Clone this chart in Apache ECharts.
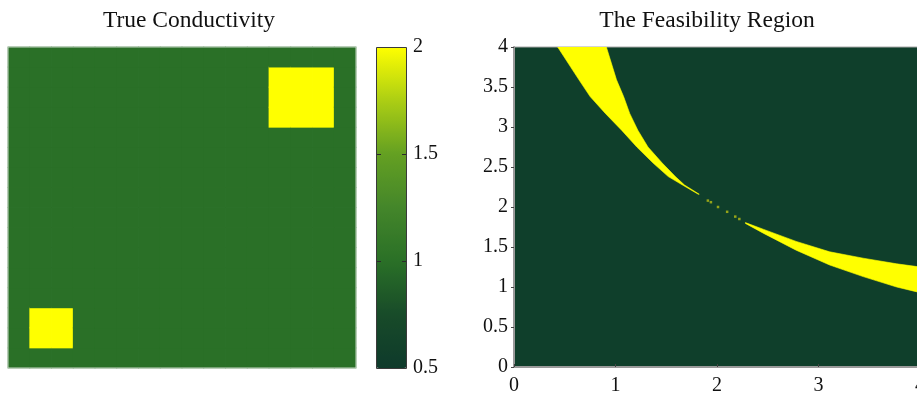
<!DOCTYPE html>
<html>
<head>
<meta charset="utf-8">
<script src="https://cdn.jsdelivr.net/npm/echarts@6/dist/echarts.min.js"></script>
<style>
  html, body { margin: 0; padding: 0; background: #ffffff; }
  #chart { width: 917px; height: 397px; }
</style>
</head>
<body>
<div id="chart"></div>
<script>
// ---- True conductivity: 16 x 16 cells, background plus two square inclusions ----
const cellCount = 16;
const backgroundConductivity = 1;
// [firstCol, lastCol, firstRow, lastRow, conductivity]  (row 0 = bottom)
const inclusionSmall = [1, 2, 1, 2, 2];
const inclusionLarge = [12, 14, 12, 14, 2];

// ---- Colour bar ----
const colorbarMin = 0.5;
const colorbarMax = 2;
const colorbarTicks = [0.5, 1, 1.5, 2];
const colorbarInnerTicks = [1, 1.5];
const conductivityColors = ['#0e3a2b', '#184b29', '#2a7027', '#44862a', '#64a022', '#acce14', '#ffff00'];

// ---- Feasibility region ----
const xTicks = [0, 1, 2, 3, 4];
const yTicks = [0, 0.5, 1, 1.5, 2, 2.5, 3, 3.5, 4];

// upper branch, sampled along y: left and right edge of the band
const upperBranchY     = [4.0, 3.59, 3.38, 3.17, 2.96, 2.75, 2.55, 2.38, 2.275, 2.16];
const upperBranchLeft  = [0.43, 0.64, 0.75, 0.90, 1.06, 1.21, 1.37, 1.52, 1.66, 1.815];
const upperBranchRight = [0.91, 1.01, 1.08, 1.14, 1.22, 1.32, 1.46, 1.59, 1.68, 1.825];

// lower branch, sampled along x: bottom and top edge of the band
const lowerBranchX      = [2.28, 2.46, 2.78, 3.11, 3.44, 3.77, 4.0];
const lowerBranchBottom = [1.795, 1.67, 1.46, 1.275, 1.13, 1.00, 0.93];
const lowerBranchTop    = [1.805, 1.72, 1.57, 1.44, 1.36, 1.29, 1.25];

// isolated feasible points where the two branches meet
const isolatedX = [1.91, 1.94, 2.01, 2.10, 2.18, 2.22];
const isolatedY = [2.08, 2.06, 2.00, 1.94, 1.88, 1.85];

// ---- build the conductivity cells ----
const cellIndex = Array.from({ length: cellCount }, (_, i) => i);
const conductivityCells = [];
for (let col = 0; col < cellCount; col++) {
  for (let row = 0; row < cellCount; row++) {
    let v = backgroundConductivity;
    [inclusionSmall, inclusionLarge].forEach(([c0, c1, r0, r1, val]) => {
      if (col >= c0 && col <= c1 && row >= r0 && row <= r1) v = val;
    });
    conductivityCells.push([col, row, v]);
  }
}

// ---- band outlines (edge points in data space) ----
const upperOutline = upperBranchY.map((y, i) => [upperBranchLeft[i], y])
  .concat(upperBranchY.map((y, i) => [upperBranchRight[i], y]).reverse());
const lowerOutline = lowerBranchX.map((x, i) => [x, lowerBranchBottom[i]])
  .concat(lowerBranchX.map((x, i) => [x, lowerBranchTop[i]]).reverse());
const bandOutlines = [upperOutline, lowerOutline];
const isolatedPoints = isolatedX.map((x, i) => [x, isolatedY[i]]);

const serif = '"Liberation Serif", "DejaVu Serif", serif';
const labelStyle = { fontFamily: serif, fontSize: 20, color: '#111' };

const chart = echarts.init(document.getElementById('chart'), null, { renderer: 'canvas' });

chart.setOption({
  animation: false,
  backgroundColor: '#ffffff',
  graphic: [
    { type: 'text', x: 189, y: 21, style: { text: 'True Conductivity', align: 'center', verticalAlign: 'middle', font: '23.5px ' + serif, fill: '#111' } },
    { type: 'text', x: 707, y: 21, style: { text: 'The Feasibility Region', align: 'center', verticalAlign: 'middle', font: '23.5px ' + serif, fill: '#111' } },
    { type: 'rect', z: 100, zlevel: 1, shape: { x: 376.5, y: 47.5, width: 30, height: 321 }, style: { fill: 'none', stroke: '#3a3a3a', lineWidth: 1 } }
  ],
  grid: [
    { left: 8, top: 47, width: 348, height: 321, outerBoundsMode: 'none', show: true, borderColor: '#c8d6c8', borderWidth: 1, backgroundColor: 'transparent', z: 3 },
    { left: 514, top: 47, width: 406, height: 320, outerBoundsMode: 'none', show: true, borderColor: '#a8a8a8', borderWidth: 1, backgroundColor: '#0f3f2b' },
    { left: 376, top: 47, width: 31, height: 321, outerBoundsMode: 'none' }
  ],
  xAxis: [
    { gridIndex: 0, type: 'category', data: cellIndex, show: false },
    {
      gridIndex: 1, type: 'value', min: 0, max: 4,
      axisLine: { show: true, lineStyle: { color: '#9a9a9a', width: 2 } },
      axisTick: { show: true, inside: true, length: 3, lineStyle: { color: '#444' }, customValues: xTicks },
      axisLabel: Object.assign({ margin: 9, customValues: xTicks }, labelStyle),
      splitLine: { show: false }
    },
    { gridIndex: 2, type: 'value', min: 0, max: 1, show: false }
  ],
  yAxis: [
    { gridIndex: 0, type: 'category', data: cellIndex, show: false },
    {
      gridIndex: 1, type: 'value', min: 0, max: 4,
      axisLine: { show: true, lineStyle: { color: '#9a9a9a', width: 2 } },
      axisTick: { show: true, inside: false, length: 3, lineStyle: { color: '#444' }, customValues: yTicks },
      axisLabel: Object.assign({ margin: 6, customValues: yTicks }, labelStyle),
      splitLine: { show: false }
    },
    {
      // colour bar scale labels
      gridIndex: 2, type: 'value', min: colorbarMin, max: colorbarMax, position: 'right',
      axisLine: { show: false },
      axisTick: { show: false },
      axisLabel: Object.assign({ margin: 6, customValues: colorbarTicks }, labelStyle),
      splitLine: { show: false }
    }
  ],
  visualMap: {
    type: 'continuous',
    seriesIndex: 0,
    dimension: 2,
    min: colorbarMin,
    max: colorbarMax,
    calculable: false,
    text: null,
    left: 376,
    top: 47,
    itemWidth: 31,
    itemHeight: 321,
    padding: 0,
    inRange: { color: conductivityColors }
  },
  series: [
    {
      // conductivity cells, coloured through the visual map
      type: 'custom',
      xAxisIndex: 0,
      yAxisIndex: 0,
      data: conductivityCells,
      silent: true,
      encode: { x: 0, y: 1 },
      renderItem: (params, api) => {
        const c = api.coord([api.value(0), api.value(1)]);
        const s = api.size([1, 1]);
        const pad = 0.4;
        return {
          type: 'rect',
          shape: { x: c[0] - s[0] / 2 - pad, y: c[1] - s[1] / 2 - pad, width: s[0] + 2 * pad, height: s[1] + 2 * pad },
          style: { fill: api.visual('color') }
        };
      }
    },
    {
      type: 'custom',
      xAxisIndex: 1,
      yAxisIndex: 1,
      clip: true,
      silent: true,
      data: bandOutlines.map((_, i) => [i, 0]),
      renderItem: (params, api) => ({
        type: 'polygon',
        shape: { points: bandOutlines[params.dataIndex].map(p => api.coord(p)) },
        style: { fill: '#ffff00', stroke: '#ffff00', lineWidth: 0.6 }
      })
    },
    {
      type: 'scatter',
      xAxisIndex: 1,
      yAxisIndex: 1,
      symbol: 'rect',
      symbolSize: 2.5,
      itemStyle: { color: '#b7bd14' },
      data: isolatedPoints,
      silent: true
    },
    {
      // short inward tick dashes on both edges of the colour bar
      type: 'custom',
      xAxisIndex: 2,
      yAxisIndex: 2,
      zlevel: 1,
      silent: true,
      data: colorbarInnerTicks.map(v => [0, v]),
      renderItem: (params, api) => {
        const left = api.coord([0, api.value(1)]);
        const right = api.coord([1, api.value(1)]);
        const y = Math.round(left[1]) + 0.5;
        const line = (x1, x2) => ({ type: 'line', shape: { x1, y1: y, x2, y2: y }, style: { stroke: '#2a2a2a', lineWidth: 1 } });
        return { type: 'group', children: [line(left[0], left[0] + 5), line(right[0] - 5, right[0])] };
      }
    }
  ]
});
</script>
</body>
</html>
